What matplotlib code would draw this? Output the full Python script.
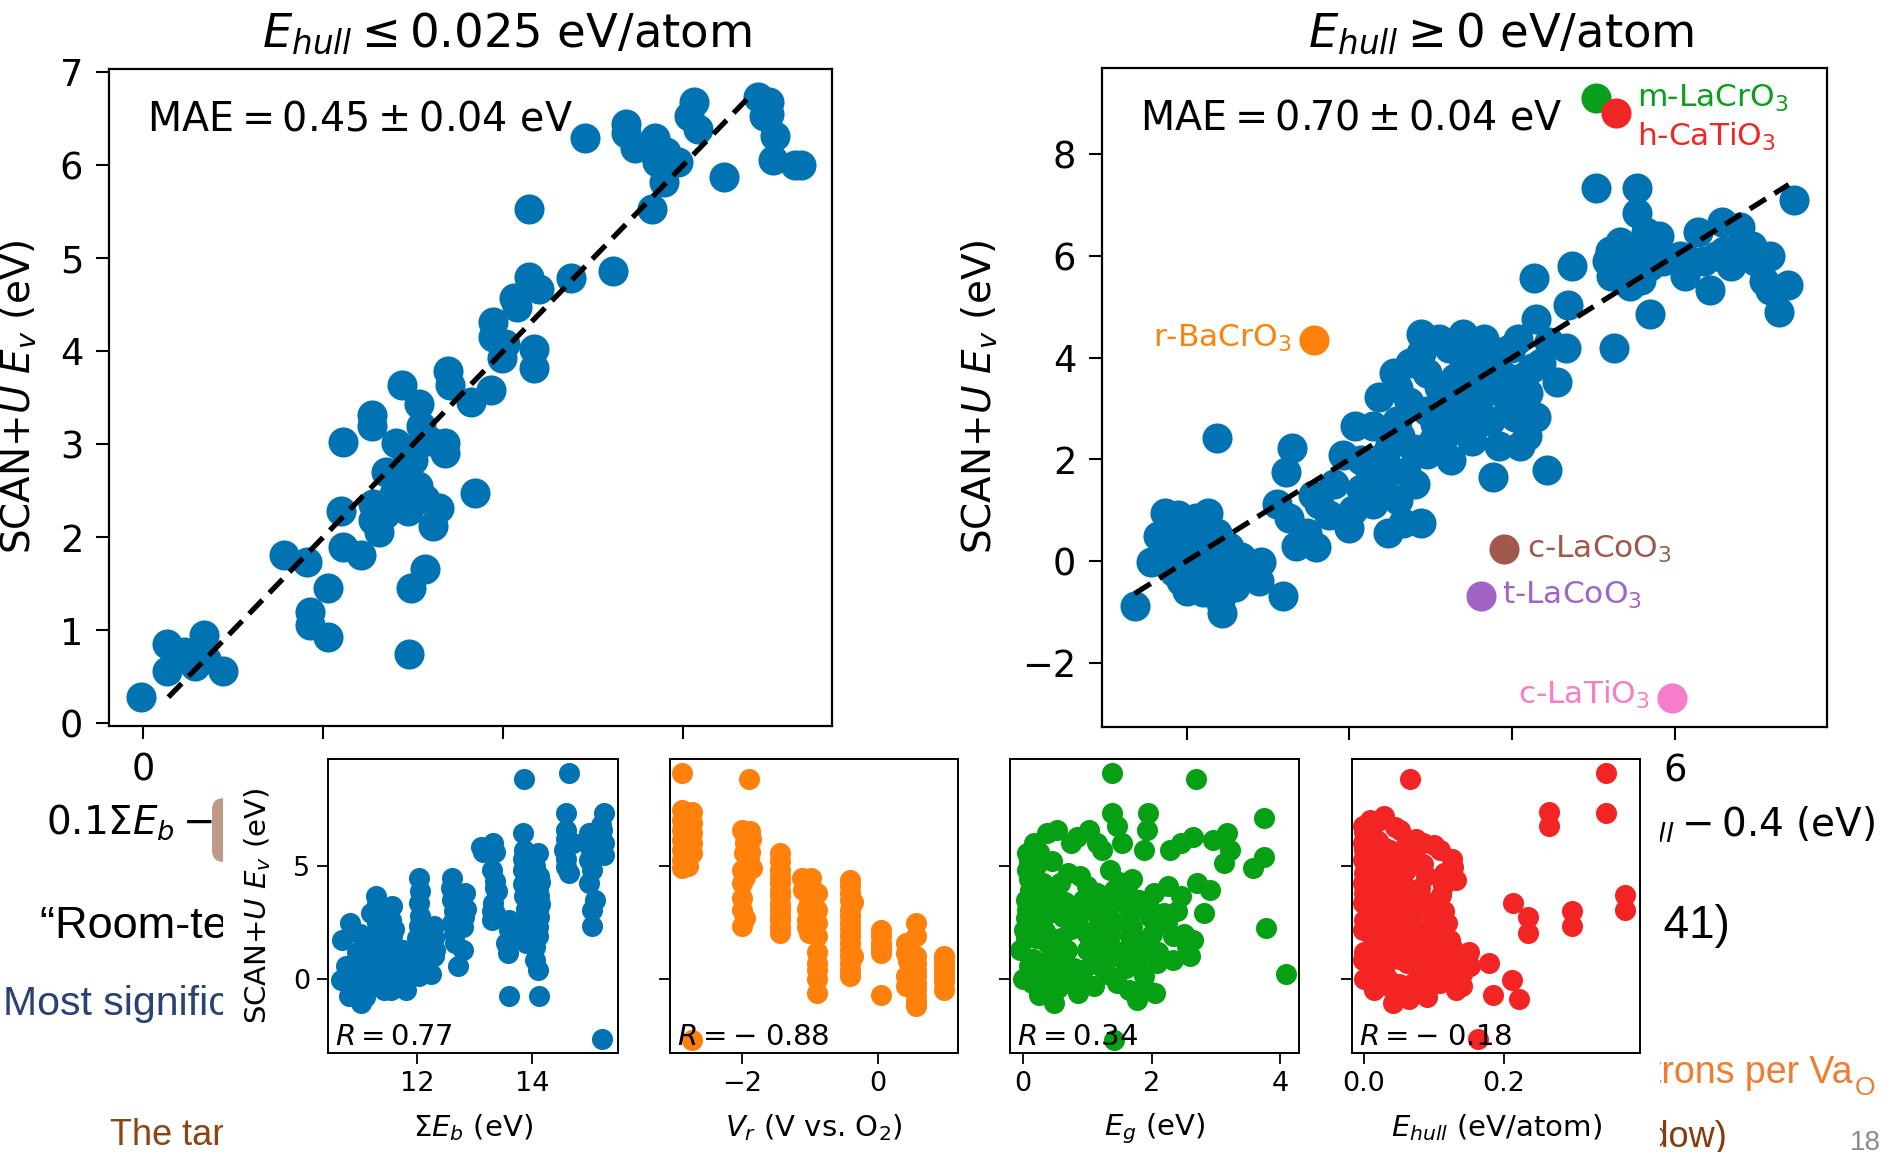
import matplotlib
matplotlib.use("Agg")
import matplotlib.pyplot as plt
from matplotlib.patches import FancyBboxPatch

plt.rcParams['font.family'] = ['DejaVu Sans']
plt.rcParams['mathtext.fontset'] = 'dejavusans'

# ---------------- data ----------------
# left panel: predicted (x) vs SCAN+U E_v (y), E_hull <= 0.025
left_points = [(-0.03,0.28),(0.26,0.85),(0.26,0.56),(0.45,0.77),(0.57,0.61),(0.67,0.95),(0.70,0.69),(0.89,0.56),
               (1.56,1.81),(1.82,1.73),(1.85,1.19),(1.85,1.06),(2.05,1.45),(2.05,0.93),(2.22,3.02),(2.20,2.28),
               (2.22,1.89),(2.42,1.81),(2.54,3.31),(2.54,3.19),(2.55,2.36),(2.55,2.18),(2.62,2.05),(2.68,2.25),
               (2.78,2.46),(2.87,3.63),(2.81,3.01),(2.87,2.62),(2.94,2.28),(2.95,0.74),(2.97,1.45),(3.00,2.83),
               (3.06,3.43),(3.09,3.19),(3.13,2.41),(3.13,1.66),(3.19,3.03),(3.22,2.12),(3.28,2.31),(3.35,3.01),
               (3.35,2.90),(3.38,3.79),(3.41,3.63),(3.64,3.45),(3.68,2.47),(3.86,3.58),(3.89,4.31),(3.89,4.15),
               (3.99,3.92),(4.02,4.08),(4.12,4.57),(4.15,4.47),(4.28,4.80),(4.28,5.53),(4.34,4.02),(4.34,3.82),
               (4.40,4.67),(4.75,4.78),(5.22,4.86),(4.91,6.29),(5.36,6.44),(5.36,6.34),(5.46,6.18),(5.65,5.53),
               (5.68,6.29),(5.71,6.03),(5.78,5.82),(5.81,6.14),(5.94,6.03),(6.06,6.52),(6.12,6.68),(6.16,6.39),
               (6.45,5.87),(6.83,6.73),(6.89,6.52),(6.95,6.68),(6.95,6.55),(6.99,6.05),(7.02,6.31),(7.24,6.00),
               (7.31,6.00),(2.70,2.70),(2.90,2.95),(3.05,2.55)]
left_parity = [0.28, 6.73]
left_mae = "MAE$ = 0.45 \\pm 0.04$ eV"

# right panel: E_hull >= 0
right_points = [(-0.63,-0.88),(-0.44,-0.02),(-0.30,0.08),(-0.26,0.94),(-0.18,0.55),(-0.15,-0.21),(-0.07,0.65),
                (0.00,-0.59),(0.04,0.17),(0.11,0.84),(0.22,-0.02),(0.26,0.94),(0.30,-0.40),(0.37,2.42),(0.37,0.55),
                (0.41,-0.78),(0.44,-1.02),(0.52,0.27),(0.59,-0.21),(0.67,0.08),(0.89,-0.40),(0.92,-0.02),(1.18,-0.69),
                (-0.07,-0.40),(0.15,-0.21),(0.26,0.46),
                (-0.35,0.50),(-0.20,0.20),(0.00,0.30),(0.10,-0.20),(0.30,0.10),(0.45,0.30),(0.60,-0.50),(0.20,-0.60),
                (-0.10,0.90),(0.50,-0.30),(0.75,-0.25),
                (1.11,1.13),(1.22,1.75),(1.29,2.22),(1.26,0.84),(1.48,0.55),(1.59,0.27),(1.63,1.13),(1.81,1.51),
                (1.92,2.08),(2.00,0.65),(2.07,2.65),(2.14,1.41),(2.22,1.89),(2.29,1.13),(2.37,3.23),(2.44,2.08),
                (2.48,0.55),(2.55,3.70),(2.62,2.46),(2.66,0.74),(2.70,1.75),(2.81,1.51),(2.88,4.47),(2.88,4.09),
                (2.88,0.74),(2.96,2.94),(3.03,2.37),(3.10,3.42),(3.22,4.18),(3.25,1.99),(3.33,2.75),(3.40,4.47),
                (3.47,3.61),(3.51,2.37),(3.58,3.13),(3.66,4.37),(3.73,2.75),(3.77,1.65),(3.81,3.80),(3.92,3.23),
                (3.99,4.18),(4.03,2.84),(4.10,2.27),(4.14,3.61),(4.18,2.46),(4.25,3.80),(4.29,2.84),(4.27,5.57),
                (4.29,4.75),(4.43,1.79),(4.55,3.51),(4.66,4.18),(4.69,5.04),(4.73,5.80),
                (3.10,4.37),(3.40,3.99),(3.62,3.80),(4.07,4.37),(3.25,3.13),(2.73,3.13),(2.59,2.75),(2.29,2.65),
                (2.14,1.99),(2.40,1.51),(3.84,2.27),
                (2.60,3.40),(2.75,3.90),(2.95,3.70),(3.05,2.70),(3.15,3.00),(3.30,3.60),(3.45,3.30),(3.55,4.00),
                (3.70,3.50),(3.85,4.10),(3.95,3.60),(4.05,3.20),(4.20,3.30),(4.35,3.90),(4.45,4.30),(3.60,2.90),
                (3.45,2.60),(2.95,2.10),(2.50,2.30),(2.35,1.70),(2.60,1.20),(2.05,1.00),(1.75,0.90),(1.55,1.30),
                (1.35,0.30),(3.15,2.40),(2.80,2.20),
                (5.03,7.33),(5.17,5.90),(5.21,5.61),(5.25,4.18),(5.32,6.28),(5.40,5.71),(5.47,6.00),(5.54,7.33),
                (5.54,6.85),(5.58,5.52),(5.65,6.47),(5.69,4.85),(5.76,6.09),(5.80,6.38),(6.13,5.61),(6.28,6.47),
                (6.43,5.33),(6.50,6.00),(6.58,6.66),(6.69,5.80),(6.80,6.57),(6.95,6.19),(6.98,5.90),(7.17,6.00),
                (7.17,5.33),(7.28,4.90),(7.39,5.42),(7.46,7.09),(6.36,5.90),(6.06,6.00),
                (5.30,5.80),(5.60,6.20),(5.45,5.40),(5.70,5.80),(6.20,5.90),(6.60,6.10),(6.85,6.20),(7.10,5.50),
                (5.20,6.10),(5.85,5.90)]
right_parity = [-0.64, 7.40]
right_mae = "MAE$ = 0.70 \\pm 0.04$ eV"

outlier_names = ["m-LaCrO$_3$", "h-CaTiO$_3$", "r-BaCrO$_3$", "c-LaCoO$_3$", "t-LaCoO$_3$", "c-LaTiO$_3$"]
outlier_pred = [5.03, 5.28, 1.57, 3.90, 3.62, 5.97]
outlier_scan = [9.10, 8.81, 4.35, 0.24, -0.69, -2.69]
outlier_colors = ["#0a9e1c", "#f02626", "#ff800a", "#a0584a", "#a064c4", "#f77cc9"]
outlier_label_xy = [(5.54, 9.10, 'left'), (5.54, 8.33, 'left'), (1.29, 4.37, 'right'),
                    (4.18, 0.22, 'left'), (3.88, -0.67, 'left'), (5.69, -2.64, 'right')]

# insets: descriptor vs SCAN+U E_v
eb_points = [(13.86,8.82),(14.64,9.12),(15.23,-2.65),(10.70,1.74),(10.84,2.47),(10.67,-0.03),(10.76,0.56),
             (10.82,-0.76),(10.90,-0.18),(11.02,-1.06),(11.05,0.71),(11.14,-0.03),(11.28,3.65),(11.28,1.88),
             (11.31,2.47),(11.37,1.29),(11.43,-0.47),(11.48,3.06),(11.51,0.41),(11.57,3.21),(11.57,1.88),
             (11.63,1.00),(11.71,-0.18),(11.80,-0.47),(11.91,1.00),(12.03,4.46),(12.03,3.35),(12.03,2.32),
             (12.03,1.29),(12.03,0.12),(12.17,1.59),(12.29,2.32),(12.29,1.00),(12.61,4.46),(12.61,3.50),
             (12.61,2.47),(12.67,1.59),(12.72,0.56),(12.84,3.79),(12.81,2.76),(13.12,5.85),(13.33,6.00),
             (13.35,4.31),(13.33,3.35),(13.30,2.62),(13.61,2.18),(13.59,1.15),(13.60,-0.74),(13.84,6.44),
             (13.87,5.71),(13.84,4.82),(13.87,3.65),(13.87,2.47),(13.90,1.59),(14.10,5.56),(14.13,4.53),
             (14.13,3.65),(14.13,2.76),(14.10,1.88),(14.05,0.85),(14.10,0.41),(14.13,-0.74),(14.59,7.32),
             (14.59,6.59),(14.56,5.71),(14.59,4.97),(14.71,6.00),(15.00,6.44),(15.03,5.71),(15.00,5.26),
             (15.00,4.24),(15.04,3.06),(15.04,2.32),(15.26,7.32),(15.23,6.59),(15.26,6.00),(15.14,6.29),
             (12.32,1.29),(11.19,1.29),(10.90,0.71),(11.31,0.12),(11.54,-0.47),
             (13.15,5.6),(13.35,5.6),(12.85,3.1),(12.65,3.0),(12.8,1.3),(12.05,2.8),(12.3,1.8),(13.6,2.6),
             (13.9,3.1),(14.1,3.1),(14.1,4.0),(13.85,4.2),(13.4,3.9),(13.35,2.9),(10.95,1.2),(11.1,1.6),
             (11.2,2.9),(11.3,3.3),(11.45,2.3),(11.55,2.6),(11.6,1.4),(11.45,0.8),(11.7,0.5),(11.9,0.4),
             (12.15,0.7),(11.05,0.2),(10.95,-0.6),
             (11.0,2.0),(11.0,0.2),(11.1,-0.8),(11.2,0.5),(11.25,-0.3),(11.3,2.0),(11.35,0.8),(11.4,3.0),
             (11.45,1.5),(11.5,-0.1),(11.55,1.1),(11.6,2.2),(11.65,0.3),(11.75,1.3),(11.85,0.6),(12.0,1.8),
             (12.05,3.9),(12.1,0.6),(12.2,2.0),(12.25,0.2),(12.6,4.0),(12.65,2.0),(12.75,3.3),(12.8,2.3),
             (13.3,4.8),(13.3,3.0),(13.35,4.0),(13.55,1.6),(13.65,2.0),(13.85,5.3),(13.9,4.5),(13.95,2.0),
             (13.9,2.8),(14.05,5.0),(14.15,4.3),(14.15,3.3),(14.1,2.3),(14.05,1.4),(14.6,6.2),(14.6,5.3),
             (14.65,4.7),(15.0,5.9),(15.05,4.8),(15.2,6.8),(15.25,5.5),(15.1,3.5)]
vr_points = [(-2.88,9.12),(-2.88,7.47),(-2.88,7.03),(-2.88,6.59),(-2.88,6.15),(-2.88,5.71),(-2.88,5.26),(-2.88,4.90),
             (-2.73,7.40),(-2.73,6.88),(-2.73,6.44),(-2.73,6.00),(-2.73,5.56),(-2.73,-2.68),
             (-2.8,7.2),(-2.8,6.3),(-2.8,5.5),(-2.8,5.0),(-2.78,6.8),
             (-1.90,8.82),(-2.00,6.59),(-1.88,6.53),(-1.95,6.00),(-1.97,5.56),(-1.90,5.26),(-2.00,4.82),(-1.85,4.90),
             (-2.00,4.24),(-2.00,3.06),(-2.00,2.32),(-1.87,6.20),(-1.92,5.80),
             (-1.95,6.3),(-1.9,5.0),(-1.95,4.5),(-2.0,3.6),(-1.95,2.7),(-1.88,5.6),
             (-1.44,5.56),(-1.44,4.82),(-1.44,4.24),(-1.44,3.65),(-1.44,3.06),(-1.44,2.62),(-1.44,2.03),
             (-1.44,5.2),(-1.44,4.5),(-1.44,3.9),(-1.44,3.3),(-1.44,2.3),(-1.44,2.8),
             (-1.12,4.46),(-0.98,4.46),(-1.10,3.94),(-0.90,3.79),(-1.02,3.35),(-0.90,3.06),(-1.05,2.62),(-0.90,2.47),
             (-1.02,2.03),(-0.90,1.88),(-0.90,0.71),(-0.90,0.41),(-0.90,-0.62),
             (-1.0,4.2),(-0.95,3.6),(-1.05,3.1),(-0.92,2.8),(-1.05,2.3),(-0.95,2.2),(-0.9,1.2),(-0.9,0.0),
             (-0.41,4.38),(-0.41,3.79),(-0.41,3.06),(-0.41,2.47),(-0.41,1.88),(-0.41,1.29),(-0.41,0.71),(-0.41,0.12),
             (-0.37,3.38),(-0.37,1.00),
             (-0.41,4.1),(-0.41,3.5),(-0.41,2.8),(-0.41,2.2),(-0.41,1.6),(-0.41,1.0),(-0.41,0.4),
             (0.05,2.18),(0.05,1.59),(0.05,1.15),(0.05,-0.69),(0.05,1.9),(0.05,1.35),
             (0.41,1.59),(0.41,1.15),(0.41,0.12),(0.41,-0.32),(0.56,2.47),(0.56,1.00),(0.56,0.41),(0.56,-0.18),
             (0.56,-0.76),(0.56,-1.21),(0.51,0.56),
             (0.45,0.8),(0.5,0.3),(0.56,1.9),(0.56,0.7),(0.56,0.15),(0.56,-0.45),(0.56,-1.0),(0.45,1.4),
             (0.98,1.00),(0.98,0.56),(0.98,0.12),(0.98,-0.47),(0.98,0.8),(0.98,0.35),(0.98,-0.15)]
eg_points = [(1.38,9.12),(2.69,8.82),(1.41,-2.68),(3.74,7.10),(3.74,5.41),(3.58,4.90),(3.78,2.25),(4.09,0.24),
             (0.06,5.56),(0.17,6.00),(0.37,6.44),(0.53,6.59),(0.74,6.00),(0.84,6.29),(1.02,6.59),(1.15,6.00),
             (1.23,5.71),(1.38,7.32),(1.46,6.74),(1.54,6.00),(1.95,7.32),(1.93,6.59),(1.88,5.71),(2.29,5.71),
             (2.45,6.00),(2.65,6.29),(2.96,6.15),(3.17,6.44),(3.22,5.71),(3.12,5.12),
             (0.06,4.82),(0.11,3.94),(0.06,3.06),(0.01,2.18),(-0.04,1.29),(0.09,0.56),(0.14,-0.18),(0.42,-0.76),
             (0.48,-1.06),(0.32,4.24),(0.27,3.35),(0.22,2.47),(0.37,1.59),(0.32,0.71),(0.58,4.24),(0.63,2.76),
             (0.68,1.29),(0.74,-0.18),(0.89,4.53),(0.94,3.50),(0.84,2.47),(0.99,1.29),(0.94,0.41),(1.15,3.79),
             (1.20,2.76),(1.10,1.88),(1.20,0.56),(1.36,4.82),(1.41,3.94),(1.31,3.06),(1.36,1.88),(1.41,1.00),
             (1.46,-0.18),(1.62,3.94),(1.72,3.06),(1.67,1.88),(1.82,1.00),(1.88,0.12),(1.93,-0.47),(1.77,-0.91),
             (2.03,3.79),(1.98,2.76),(1.93,1.29),(2.08,0.71),(2.24,2.47),(2.34,1.88),(2.55,1.44),(2.34,0.85),
             (2.45,3.65),(2.70,4.24),(2.91,3.94),(2.81,2.91),(2.65,1.74),
             (0.2,1.8),(0.5,3.0),(0.5,0.2),(0.8,3.2),(1.0,2.0),(0.6,0.9),(1.25,1.5),(1.55,2.5),(1.6,0.5),
             (0.3,-0.4),(0.9,-0.1),(1.1,0.9),(1.7,4.4),(0.15,4.4),(0.45,5.2),(0.2,5.0),
             (0.0,0.0),(0.05,1.8),(0.05,2.7),(0.05,3.5),(0.1,4.4),(0.1,5.2),(0.25,5.6),(0.25,0.0),(0.35,2.1),
             (0.4,2.9),(0.45,1.2),(0.55,-0.4),(0.6,1.8),(0.65,3.4),(0.7,4.7),(0.75,2.2),(0.8,0.5),(0.85,-0.6),
             (0.95,3.0),(1.0,4.1),(1.05,1.5),(1.1,-0.3),(1.15,2.3),(1.25,3.3),(1.3,0.2),(1.35,1.4),(1.45,2.5),
             (1.5,4.3),(1.55,3.4),(1.6,1.3),(1.65,-0.5),(1.7,2.3),(1.75,0.6),(1.8,3.5),(1.85,1.7),(1.95,3.3),
             (2.0,2.0),(2.05,-0.6),(2.1,1.2),(2.2,2.9),(2.25,4.1),(2.4,3.0),(2.5,2.0),(2.6,1.0),(0.15,0.9),
             (0.25,-0.7),(0.45,3.9),(0.2,3.0)]
eh_points = [(0.066,8.82),(0.346,9.12),(0.346,7.32),(0.264,7.40),(0.264,6.74),(0.163,-2.65),(0.373,3.72),
             (0.373,3.06),(0.297,2.99),(0.297,2.32),(0.213,3.35),(0.234,2.76),(0.234,2.03),(0.179,0.71),
             (0.211,-0.03),(0.184,-0.69),(0.221,-0.88),
             (-0.001,6.74),(0.009,7.03),(0.028,7.18),(-0.001,6.00),(0.013,6.29),(-0.001,5.26),(0.013,4.97),
             (-0.001,4.24),(0.018,3.79),(-0.001,3.35),(0.013,2.76),(-0.001,2.18),(0.013,1.59),(-0.001,0.85),
             (0.009,0.41),(0.028,0.41),(0.042,-0.47),(0.042,-1.06),(0.028,-0.18),(0.051,6.59),(0.061,6.15),
             (0.085,6.00),(0.108,5.71),(0.127,4.97),(0.132,4.38),(0.113,4.09),(0.089,4.53),(0.051,5.41),
             (0.037,5.71),(0.070,5.41),(0.032,4.53),(0.056,4.24),(0.042,3.65),(0.070,3.65),(0.080,3.21),
             (0.099,2.76),(0.037,2.76),(0.061,2.47),(0.080,1.88),(0.042,1.88),(0.118,2.47),(0.123,1.74),
             (0.108,1.00),(0.132,1.00),(0.151,0.56),(0.127,-0.03),(0.132,-0.47),(0.108,-0.18),(0.085,-0.47),
             (0.070,-0.18),(0.061,0.71),(0.089,0.56),(0.075,1.29),(0.056,1.29),(0.023,1.29),(0.080,0.26),
             (0.02,3.0),(0.03,2.2),(0.05,3.0),(0.06,2.0),(0.02,4.6),(0.1,3.4),(0.09,2.2),(0.05,0.9),(0.1,1.5),
             (0.115,3.0),(0.03,5.8),(0.01,0.0),(0.06,-0.7),(0.095,-0.3),(0.15,1.2),(0.14,0.2),
             (0.0,0.0),(0.0,1.2),(0.0,2.6),(0.0,3.8),(0.0,4.7),(0.0,5.7),(0.0,6.5),(0.015,-0.5),(0.02,0.8),
             (0.02,2.0),(0.02,3.3),(0.02,4.3),(0.02,5.2),(0.02,6.1),(0.035,0.0),(0.035,1.0),(0.035,2.4),
             (0.035,3.2),(0.035,4.0),(0.04,5.0),(0.045,6.7),(0.05,-0.2),(0.05,1.6),(0.05,2.6),(0.05,3.6),
             (0.06,4.8),(0.065,-0.9),(0.065,1.0),(0.07,2.3),(0.075,3.0),(0.08,4.0),(0.085,5.1),(0.09,-0.8),
             (0.095,1.1),(0.1,0.2),(0.1,2.0),(0.11,3.7),(0.115,4.7),(0.12,0.6),(0.125,1.4),(0.14,-0.3),
             (0.145,0.9),(0.125,5.3),(0.1,5.9),(0.075,6.2),(0.02,7.0)]

inset_points = [eb_points, vr_points, eg_points, eh_points]
inset_colors = ["#0173b2", "#ff800a", "#05a014", "#f22424"]
inset_xlabels = [r"$\Sigma E_b$ (eV)", r"$V_r$ (V vs. O$_2$)", r"$E_g$ (eV)", r"$E_{hull}$ (eV/atom)"]
inset_xticks = [[12, 14], [-2, 0], [0, 2, 4], [0.0, 0.2]]
inset_xticklabels = [["12", "14"], ["\u22122", "0"], ["0", "2", "4"], ["0.0", "0.2"]]
inset_r = [r"$R = 0.77$", r"$R = -\;0.88$", r"$R = 0.34$", r"$R = -\;0.18$"]

xlabel_formula = r"$0.1\Sigma E_b - 1.2V_r + 0.3E_g + 4.5E_{hull} - 0.4$ (eV)"
ylabel_main = r"SCAN+$U$ $E_v$ (eV)"

# ---------------- figure ----------------
W, H = 1883, 1152
fig = plt.figure(figsize=(W / 100, H / 100), dpi=100)
fig.patch.set_facecolor("white")


def px_axes(x0, y0, x1, y1, z):
    return fig.add_axes([x0 / W, 1 - y1 / H, (x1 - x0) / W, (y1 - y0) / H], zorder=z)


# background "slide" layer in pixel coordinates
bg = px_axes(0, 0, W, H, 0)
bg.set_xlim(0, W)
bg.set_ylim(H, 0)
bg.axis("off")

slide = dict(family=["Liberation Sans", "DejaVu Sans"], va="baseline")
bg.text(40, 938, "\u201cRoom-temperature stable", fontsize=32.5, color="black", **slide)
bg.text(1730, 938, "(0.41)", fontsize=33, color="black", ha="right", **slide)
bg.text(3, 1015, "Most significant factor", fontsize=29.5, color="#2a4272", **slide)
bg.text(1853, 1083, "2 electrons per Va", fontsize=27, color="#ed7d31", ha="right", **slide)
bg.text(1855, 1095, "O", fontsize=19, color="#ed7d31", ha="left", **slide)
bg.text(110, 1145, "The target window", fontsize=26, color="#8b4513", **slide)
bg.text(1727, 1147, "(target window)", fontsize=26, color="#843c0c", ha="right", **slide)
bg.text(1850, 1130, "18", fontsize=20, color="#8c8c8c", family=["Liberation Sans"], va="top")
bg.add_patch(FancyBboxPatch((212, 798), 140, 64, boxstyle="round,pad=0,rounding_size=12",
                            fc="#c09a88", ec="none", zorder=3))

# titles, axis labels of the two main panels
bg.text(262, 46, r"$E_{hull} \leq 0.025$ eV/atom", fontsize=33.5, va="baseline")
bg.text(1308, 46, r"$E_{hull} \geq 0$ eV/atom", fontsize=33.5, va="baseline")
bg.text(19, 397, ylabel_main, fontsize=28, rotation=90, ha="center", va="center")
bg.text(980, 397, ylabel_main, fontsize=28, rotation=90, ha="center", va="center")
bg.text(46, 835, xlabel_formula, fontsize=28, va="baseline", zorder=1)
bg.text(1875, 837, xlabel_formula, fontsize=28, va="baseline", ha="right", zorder=1)

blue = "#0173b2"


def style_main(ax):
    for s in ax.spines.values():
        s.set_linewidth(1.6)
    ax.tick_params(labelsize=26.5, length=9.5, width=1.5, pad=9)


axL = px_axes(109, 69, 832, 726, 1)
lx, ly = zip(*left_points)
axL.scatter(lx, ly, s=470, color=blue, linewidths=0, zorder=2)
axL.plot(left_parity, left_parity, color="black", ls=(0, (3.6, 1.9)), lw=3.8, zorder=3)
axL.set_xlim(-0.38, 7.65)
axL.set_ylim(-0.03, 7.03)
axL.set_xticks([0, 2, 4, 6])
axL.set_yticks(range(0, 8))
axL.text(0.052, 0.906, left_mae, transform=axL.transAxes, fontsize=28.5, va="baseline")
style_main(axL)

axR = px_axes(1102, 68, 1827, 727, 1)
rx, ry = zip(*right_points)
axR.scatter(rx, ry, s=470, color=blue, linewidths=0, zorder=2)
axR.plot(right_parity, right_parity, color="black", ls=(0, (3.6, 1.9)), lw=3.8, zorder=3)
for nm, px, py, c, (tx, ty, ha) in zip(outlier_names, outlier_pred, outlier_scan, outlier_colors, outlier_label_xy):
    axR.scatter([px], [py], s=470, color=c, linewidths=0, zorder=2)
    axR.text(tx, ty, nm, color=c, fontsize=22.5, ha=ha, va="center")
axR.set_xlim(-1.04, 7.87)
axR.set_ylim(-3.26, 9.69)
axR.set_xticks([0, 2, 4, 6])
axR.set_yticks([-2, 0, 2, 4, 6, 8])
axR.text(0.052, 0.906, right_mae, transform=axR.transAxes, fontsize=28.5, va="baseline")
style_main(axR)

# white backdrop of the inset figure
cover = px_axes(223, 743, 1660, H, 2)
cover.set_facecolor("white")
cover.set_xticks([])
cover.set_yticks([])
for s in cover.spines.values():
    s.set_visible(False)

inset_boxes = [(328, 759, 618, 1053), (670, 759, 958, 1053), (1010, 759, 1299, 1053), (1352, 759, 1640, 1053)]
inset_xlims = [(10.45, 15.50), (-3.06, 1.18), (-0.20, 4.29), (-0.017, 0.394)]

for i, (box, pts, col, xl, xt, xtl, rt, xlim) in enumerate(zip(inset_boxes, inset_points, inset_colors,
                                                                  inset_xlabels, inset_xticks,
                                                                  inset_xticklabels, inset_r, inset_xlims)):
    ax = px_axes(*box, 3)
    xs, ys = zip(*pts)
    ax.scatter(xs, ys, s=230, color=col, linewidths=0, zorder=2)
    ax.set_xlim(*xlim)
    ax.set_ylim(-3.27, 9.72)
    ax.set_xticks(xt)
    ax.set_xticklabels(xtl)
    ax.set_yticks([0, 5])
    if i == 0:
        ax.set_yticklabels(["0", "5"])
        ax.set_ylabel(ylabel_main, fontsize=21)
        ax.yaxis.set_label_coords(-0.19, 0.5)
    else:
        ax.set_yticklabels([])
    ax.set_xlabel(xl, fontsize=21)
    ax.xaxis.set_label_coords(0.5, -0.20)
    ax.tick_params(labelsize=19.5, length=8, width=1.3, pad=5)
    for s in ax.spines.values():
        s.set_linewidth(1.4)
    ax.text(0.025, 0.028, rt, transform=ax.transAxes, fontsize=21, va="baseline", zorder=4)

fig.savefig("out.png", dpi=100, facecolor="white")
